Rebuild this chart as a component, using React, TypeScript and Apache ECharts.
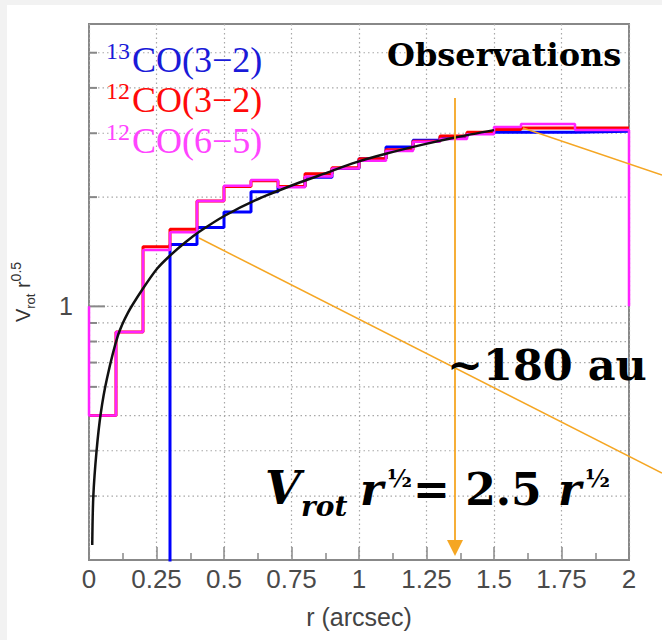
import React, { useEffect, useRef } from 'react';
import * as echarts from 'echarts';

// ---- data ----
const binEdges = [0, 0.1, 0.2, 0.3, 0.4, 0.5, 0.6, 0.7, 0.8, 0.9, 1.0, 1.1, 1.2, 1.3, 1.4, 1.5, 1.6, 1.7, 1.8, 1.9, 2.0];
// 13CO(3-2): first three bins are below the axis minimum
const co13_32 = [0.15, 0.15, 0.15, 1.48, 1.65, 1.82, 2.07, 2.14, 2.27, 2.40, 2.55, 2.75, 2.87, 2.93, 3.00, 3.02, 3.02, 3.02, 3.03, 3.04];
const co12_32 = [0.50, 0.85, 1.46, 1.63, 1.95, 2.14, 2.22, 2.14, 2.32, 2.41, 2.55, 2.70, 2.85, 2.95, 3.02, 3.07, 3.10, 3.10, 3.10, 3.10];
const co12_65 = [0.50, 0.85, 1.43, 1.60, 1.95, 2.15, 2.23, 2.13, 2.28, 2.40, 2.52, 2.68, 2.84, 2.89, 2.98, 3.12, 3.18, 3.18, 3.06, 3.06];
const co12_65Outer = 1.0; // level where the magenta outline starts / ends
const fitR = [0.012, 0.016, 0.028, 0.044, 0.066, 0.107, 0.144, 0.2, 0.252, 0.3, 0.356, 0.411, 0.504, 0.615, 0.763, 0.885, 0.985, 1.096, 1.244, 1.356, 1.5];
const fitV = [0.22, 0.30, 0.40, 0.51, 0.63, 0.83, 0.96, 1.12, 1.27, 1.38, 1.50, 1.61, 1.78, 1.96, 2.17, 2.34, 2.49, 2.63, 2.80, 2.92, 3.06];
const yGridValues = [0.3, 0.4, 0.5, 0.6, 0.7, 0.8, 0.9, 1, 2, 3, 4, 5];

const BLUE = '#0000ff';
const RED = '#ff0000';
const MAGENTA = '#ff22ff';
const ORANGE = '#f5a623';
const FRAME = '#888888';
const GRID = '#a8a8a8';

function stepData(vals: number[], outer?: number) {
  const pts: (number | null)[][] = [];
  if (outer != null) pts.push([binEdges[0], outer]);
  vals.forEach((v, i) => pts.push([binEdges[i], v]));
  pts.push([binEdges[vals.length], vals[vals.length - 1]]);
  if (outer != null) pts.push([binEdges[vals.length], outer]);
  return pts;
}

export default function App() {
  const ref = useRef<HTMLDivElement>(null);
  useEffect(() => {
    document.body.style.margin = '0';
    const chart = echarts.init(ref.current!, null, { renderer: 'svg' });
    const serifBold = '"DejaVu Serif"';
    const option: any = {
      animation: false,
      grid: { left: 89, top: 24, right: 33, bottom: 80, show: true, borderColor: FRAME, borderWidth: 2, backgroundColor: 'transparent' },
      xAxis: {
        type: 'value', min: 0, max: 2, interval: 0.25,
        name: 'r (arcsec)', nameLocation: 'middle', nameGap: 44,
        nameTextStyle: { fontFamily: 'Liberation Sans', fontSize: 25, color: '#444' },
        axisLine: { show: false },
        axisTick: { show: true, inside: true, length: 13, lineStyle: { color: FRAME, width: 1.5 } },
        minorTick: { show: true, splitNumber: 2, length: 7, lineStyle: { color: FRAME, width: 1.5 } },
        axisLabel: { fontFamily: 'Liberation Sans', fontSize: 26, color: '#4a4a4a', margin: 6 },
        splitLine: { show: true, lineStyle: { color: GRID, width: 1.2, type: [1.5, 3] } },
      },
      yAxis: {
        type: 'log', logBase: 10, min: 0.2, max: 6,
        name: '{v|V}{s|rot}{v| r}{p|0.5}', nameLocation: 'middle', nameGap: 52, nameRotate: 90,
        nameTextStyle: {
          fontFamily: 'Liberation Sans', color: '#333',
          rich: {
            v: { fontSize: 20, color: '#333', lineHeight: 28, fontFamily: 'Liberation Sans' },
            s: { fontSize: 13, color: '#333', verticalAlign: 'bottom', fontFamily: 'Liberation Sans' },
            p: { fontSize: 14, color: '#333', verticalAlign: 'top', fontFamily: 'Liberation Sans' },
          },
        },
        axisLine: { show: false },
        axisTick: { show: false },
        splitLine: { show: false },
        axisLabel: {
          fontFamily: 'Liberation Sans', fontSize: 25, color: '#4a4a4a', margin: 16,
          formatter: (v: number) => (Math.abs(v - 1) < 1e-6 ? '1' : ''),
        },
      },
      series: [
        {
          type: 'custom', z: 1, silent: true, clip: false,
          data: yGridValues.map((v) => [0, v]),
          renderItem: (params: any, api: any) => {
            const v = api.value(1);
            const p0 = api.coord([0, v]);
            const p1 = api.coord([2, v]);
            const len = Math.abs(v - 1) < 1e-6 ? 16 : 8;
            return {
              type: 'group',
              children: [
                { type: 'line', shape: { x1: p0[0], y1: p0[1], x2: p1[0], y2: p1[1] }, style: { stroke: GRID, lineWidth: 1.2, lineDash: [1.5, 3] } },
                { type: 'line', shape: { x1: p0[0], y1: p0[1], x2: p0[0] + len, y2: p0[1] }, style: { stroke: FRAME, lineWidth: 2 } },
              ],
            };
          },
        },
        { name: '13CO(3-2)', type: 'line', step: 'end', data: stepData(co13_32), showSymbol: false, z: 3, lineStyle: { color: BLUE, width: 3 } },
        { name: '12CO(3-2)', type: 'line', step: 'end', data: stepData(co12_32), showSymbol: false, z: 4, lineStyle: { color: RED, width: 3 } },
        { name: '12CO(6-5)', type: 'line', step: 'end', data: stepData(co12_65, co12_65Outer), showSymbol: false, z: 5, lineStyle: { color: MAGENTA, width: 2.5 } },
        { name: 'fit', type: 'line', data: fitR.map((r, i) => [r, fitV[i]]), smooth: 0.3, showSymbol: false, z: 6, lineStyle: { color: '#111', width: 2.5 } },
      ],
      graphic: [
        // annotation lines
        { type: 'line', z: 50, shape: { x1: 199, y1: 238, x2: 662, y2: 473 }, style: { stroke: ORANGE, lineWidth: 1.5 } },
        { type: 'line', z: 50, shape: { x1: 523, y1: 128, x2: 662, y2: 175 }, style: { stroke: ORANGE, lineWidth: 1.5 } },
        { type: 'line', z: 50, shape: { x1: 455, y1: 98, x2: 455, y2: 542 }, style: { stroke: ORANGE, lineWidth: 1.8 } },
        { type: 'polygon', z: 50, shape: { points: [[447, 540], [463, 540], [455, 556]] }, style: { fill: ORANGE } },
        // legend texts
        { type: 'text', z: 60, x: 106, y: 51, style: { text: '13', font: '24px "Liberation Serif"', fill: '#1a1ad8', textAlign: 'left', textVerticalAlign: 'middle' } },
        { type: 'text', z: 60, x: 132, y: 60, style: { text: 'CO(3−2)', font: '36px "Liberation Serif"', fill: '#1a1ad8', textAlign: 'left', textVerticalAlign: 'middle' } },
        { type: 'text', z: 60, x: 106, y: 91, style: { text: '12', font: '24px "Liberation Serif"', fill: '#ff0a0a', textAlign: 'left', textVerticalAlign: 'middle' } },
        { type: 'text', z: 60, x: 132, y: 100, style: { text: 'CO(3−2)', font: '36px "Liberation Serif"', fill: '#ff0a0a', textAlign: 'left', textVerticalAlign: 'middle' } },
        { type: 'text', z: 60, x: 106, y: 132, style: { text: '12', font: '24px "Liberation Serif"', fill: '#ff44ff', textAlign: 'left', textVerticalAlign: 'middle' } },
        { type: 'text', z: 60, x: 132, y: 141, style: { text: 'CO(6−5)', font: '36px "Liberation Serif"', fill: '#ff44ff', textAlign: 'left', textVerticalAlign: 'middle' } },
        // titles / annotations
        { type: 'text', z: 60, x: 387, y: 55, style: { text: 'Observations', font: `bold 32px ${serifBold}`, fill: '#000', textAlign: 'left', textVerticalAlign: 'middle' } },
        { type: 'text', z: 60, x: 447, y: 365, style: { text: '~180 au', font: `bold 43px ${serifBold}`, fill: '#000', textAlign: 'left', textVerticalAlign: 'middle' } },
        { type: 'text', z: 60, x: 265, y: 488, style: { text: 'V', font: `italic bold 46px ${serifBold}`, fill: '#000', textAlign: 'left', textVerticalAlign: 'middle' } },
        { type: 'text', z: 60, x: 301, y: 506, style: { text: 'rot', font: `italic bold 28px ${serifBold}`, fill: '#000', textAlign: 'left', textVerticalAlign: 'middle' } },
        { type: 'text', z: 60, x: 360, y: 489, style: { text: 'r', font: `italic bold 44px ${serifBold}`, fill: '#000', textAlign: 'left', textVerticalAlign: 'middle' } },
        { type: 'text', z: 60, x: 387, y: 478, style: { text: '½', font: `bold 24px ${serifBold}`, fill: '#000', textAlign: 'left', textVerticalAlign: 'middle' } },
        { type: 'text', z: 60, x: 413, y: 489, style: { text: '= 2.5', font: `bold 44px ${serifBold}`, fill: '#000', textAlign: 'left', textVerticalAlign: 'middle' } },
        { type: 'text', z: 60, x: 558, y: 489, style: { text: 'r', font: `italic bold 44px ${serifBold}`, fill: '#000', textAlign: 'left', textVerticalAlign: 'middle' } },
        { type: 'text', z: 60, x: 585, y: 478, style: { text: '½', font: `bold 24px ${serifBold}`, fill: '#000', textAlign: 'left', textVerticalAlign: 'middle' } },
      ],
    };
    chart.setOption(option);
    return () => chart.dispose();
  }, []);

  return (
    <div style={{ position: 'relative', width: 662, height: 640, background: '#f2f2f2', overflow: 'hidden' }}>
      <div style={{ position: 'absolute', left: 7, top: 5, right: 0, bottom: 0, background: '#ffffff' }} />
      <div ref={ref} style={{ position: 'absolute', left: 0, top: 0, width: 662, height: 640 }} />
    </div>
  );
}
